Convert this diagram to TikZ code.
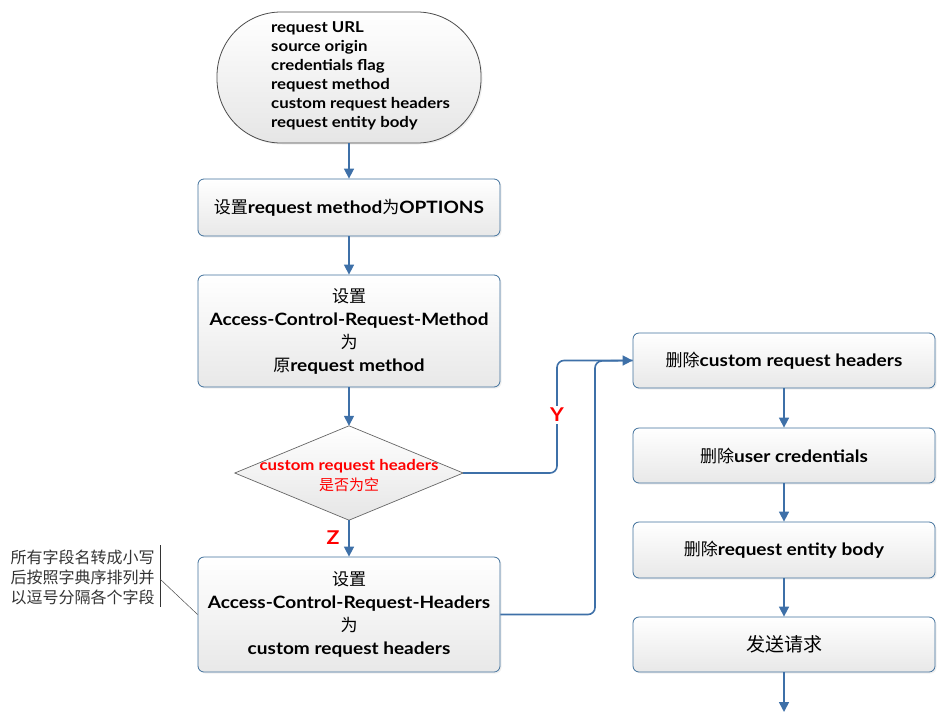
\documentclass[tikz,border=0pt]{standalone}
\usepackage{fontspec}
\setmainfont{Lato}[FakeStretch=1.12]
\newfontfamily\cjk{Noto Sans CJK SC}
\usetikzlibrary{arrows.meta,shadows}
\definecolor{boxblue}{RGB}{65,113,156}
\definecolor{arrblue}{RGB}{62,112,168}
\newcommand{\zh}[1]{{\cjk\mdseries #1}}
\begin{document}
\begin{tikzpicture}[x=1pt,y=-1pt,
  procbox/.style={draw=boxblue, line width=0.8pt, rounded corners=6pt,
    top color=white, bottom color=black!9,
    drop shadow={shadow xshift=1.5pt,shadow yshift=-1.5pt,fill=black!12},
    minimum width=302pt, inner sep=0pt, align=center,
    font=\fontsize{17}{23}\selectfont\bfseries},
  flow/.style={draw=arrblue, line width=1.6pt, -{Triangle[length=10pt,width=10pt]}, rounded corners=7pt},
  plainflow/.style={draw=arrblue, line width=1.6pt, rounded corners=7pt},
  lbl/.style={text=red, font=\fontsize{19}{19}\selectfont\bfseries, fill=white, inner sep=2pt}
]
\useasboundingbox (0,0) rectangle (949,720);

% start terminator
\node[draw=black!70, line width=0.8pt, rounded corners=64pt, top color=white, bottom color=black!10,
  drop shadow={shadow xshift=1.5pt,shadow yshift=-1.5pt,fill=black!12},
  minimum width=264pt, minimum height=131pt, inner sep=0pt] (start) at (349,77.5) {};
\node[align=left, font=\fontsize{15}{19}\selectfont\bfseries, anchor=west, inner sep=0pt] (starttxt) at (271,76)
 {request URL\\source origin\\credentials flag\\request method\\custom request headers\\request entity body};

% left column
\node[procbox, minimum height=57pt] (b1) at (349,207.5) {\zh{设置}request method\zh{为}OPTIONS};
\node[procbox, minimum height=112pt] (b2) at (349,331) {\zh{设置}\\Access-Control-Request-Method\\\zh{为}\\\zh{原}request method};

\node[minimum width=228pt, minimum height=94pt, inner sep=0pt] (dec) at (349,473) {};
\draw[draw=black!60, line width=0.7pt, top color=white, bottom color=black!10]
  (dec.north) -- (dec.east) -- (dec.south) -- (dec.west) -- cycle;
\node[align=center, text=red, font=\fontsize{15}{20}\selectfont\bfseries] (dectxt) at (349,476)
  {custom request headers\\\zh{是否为空}};

\node[procbox, minimum height=115pt] (b3) at (349,614.5) {\zh{设置}\\Access-Control-Request-Headers\\\zh{为}\\custom request headers};

% right column
\node[procbox, minimum height=55pt] (b4) at (784,360.5) {\zh{删除}custom request headers};
\node[procbox, minimum height=55pt] (b5) at (784,455.5) {\zh{删除}user credentials};
\node[procbox, minimum height=56pt] (b6) at (784,550) {\zh{删除}request entity body};
\node[procbox, minimum height=55pt] (b7) at (784,644.5) {\zh{\fontsize{19}{23}\selectfont 发送请求}};
\coordinate (endpt) at (784,712);

% annotation
\node[align=left, text=black!80, font=\cjk\fontsize{16}{20}\selectfont, anchor=west] (note) at (7,577)
  {所有字段名转成小写\\后按照字典序排列并\\以逗号分隔各个字段};
\coordinate (brtop) at (160,545);
\coordinate (brbot) at (160,607);
\coordinate (brmid) at (160,579);
\draw[black!80, line width=0.7pt] (brtop) -- (brbot);
\draw[black!70, line width=0.5pt] (brmid) -- (b3.west);

% connectors
\draw[flow] (start.south) -- (b1.north);
\draw[flow] (b1.south) -- (b2.north);
\draw[flow] (b2.south) -- (dec.north);
\draw[flow] (dec.south) -- (b3.north);
\draw[plainflow] (b3.east) -- (595,614.5) -- (595,361) -- (b4.west);
\draw[flow] (dec.east) -- (557,473) -- (557,360.5) -- (b4.west);
\draw[flow] (b4.south) -- (b5.north);
\draw[flow] (b5.south) -- (b6.north);
\draw[flow] (b6.south) -- (b7.north);
\draw[flow] (b7.south) -- (endpt);

\node[lbl] (ylbl) at (557,415) {Y};
\node[lbl, fill=none] (zlbl) at (333,538) {Z};
\end{tikzpicture}
\end{document}
